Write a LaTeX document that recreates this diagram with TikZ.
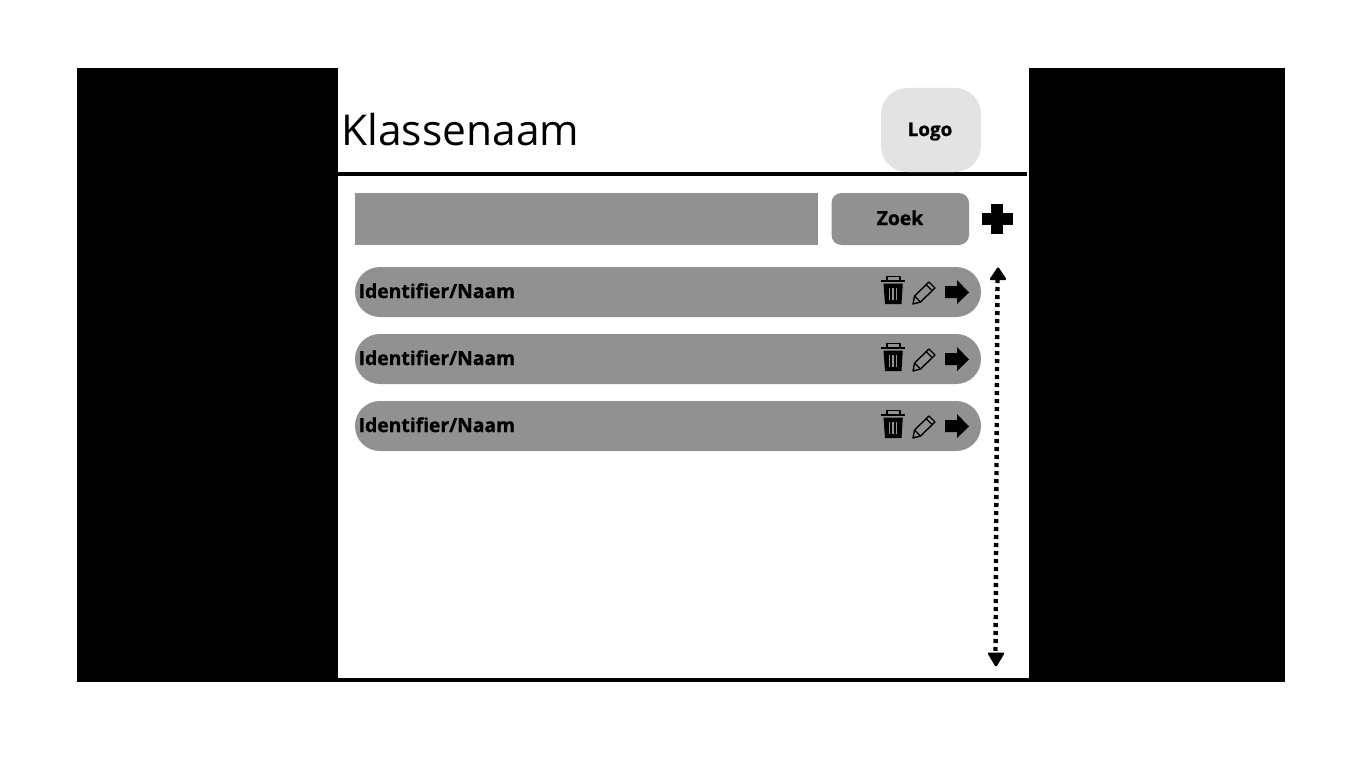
\documentclass[tikz,border=0pt]{standalone}
\usepackage{fontspec}
\setmainfont{Open Sans}
\newfontfamily\heavy[FakeBold=1.1]{Open Sans Bold}
\definecolor{midgrey}{HTML}{919191}
\definecolor{lightgrey}{HTML}{E3E3E3}
\tikzset{
  panel/.style={fill=black,draw=none},
  greybar/.style={fill=midgrey,draw=none},
  rowbar/.style={fill=midgrey,draw=none,rounded corners=24.9pt},
  rowlabel/.style={anchor=base west,inner sep=0pt,font=\fontsize{19.3}{24}\selectfont\heavy},
  btnlabel/.style={anchor=base,inner sep=0pt,font=\fontsize{19.3}{24}\selectfont\heavy},
  rowicons/.pic={
    % trash can
    \draw[black,line width=1.6pt] (-6,-11) -- (-6,-15.5) -- (7,-15.5) -- (7,-11);
    \fill[black] (-12,-12) rectangle (12,-10);
    \fill[black] (-9.5,-8.5) -- (9.8,-8.5) -- (8.5,12) -- (-8,12) -- cycle;
    \fill[midgrey] (-3.8,-4) rectangle (-3,8);
    \fill[midgrey] (-1,-4) rectangle (0.8,8);
    \fill[midgrey] (3,-4) rectangle (3.8,8);
    % pencil
    \draw[black,line width=1.4pt,line join=round,fill=midgrey] (20,12) -- (21.5,4) -- (36,-10) -- (42,-4) -- (27.5,10) -- cycle;
    \draw[black,line width=1.4pt] (33,-7.5) -- (39,-1.5);
    \draw[black,line width=1.2pt] (21.5,4) -- (27.5,10);
    % arrow
    \fill[black] (52,-6) -- (64,-6) -- (64,-12) -- (76,0.5) -- (64,12) -- (64,6) -- (52,6) -- cycle;
  }
}
\begin{document}
\begin{tikzpicture}[x=1pt,y=-1pt]
\useasboundingbox (0,0) rectangle (1366,768);
\fill[panel] (77,68) rectangle (338,682);
\fill[panel] (1029,68) rectangle (1285,682);
\fill[panel] (338,678) rectangle (1029,682);
\fill[panel] (338,172) rectangle (1027,176);
\node[anchor=base west,inner sep=0pt,font=\fontsize{42.5}{50}\selectfont] (title) at (341.3,145) {Klassenaam};
\fill[lightgrey,rounded corners=26pt] (881,88) rectangle (981,172);
\node[anchor=base,inner sep=0pt,font=\fontsize{18.8}{22}\selectfont\heavy] (logo) at (930,136) {Logo};
\fill[greybar] (355,193) rectangle (818,245);
\fill[greybar,rounded corners=10pt] (831.5,193) rectangle (969,245);
\node[btnlabel] (zoek) at (900,225) {Zoek};
\fill[black] (991,204) rectangle (1003,234);
\fill[black] (982,213) rectangle (1013,225);
\foreach \y/\t in {267/a,334/b,401/c}{
  \fill[rowbar] (355,\y) rectangle (981,\y+50);
  \node[rowlabel] (lab\t) at (358.5,\y+31) {Identifier/Naam};
  \pic at (893,\y+25) {rowicons};
}
\draw[black,line width=4.4pt,dash pattern=on 4pt off 4pt] (997.5,279) -- (995.5,654);
\fill[black,rounded corners=1.5pt] (989,280) -- (998,266.5) -- (1007,280) -- cycle;
\fill[black,rounded corners=1.5pt] (987,652.5) -- (1005,652.5) -- (996,667.5) -- cycle;
\end{tikzpicture}
\end{document}
